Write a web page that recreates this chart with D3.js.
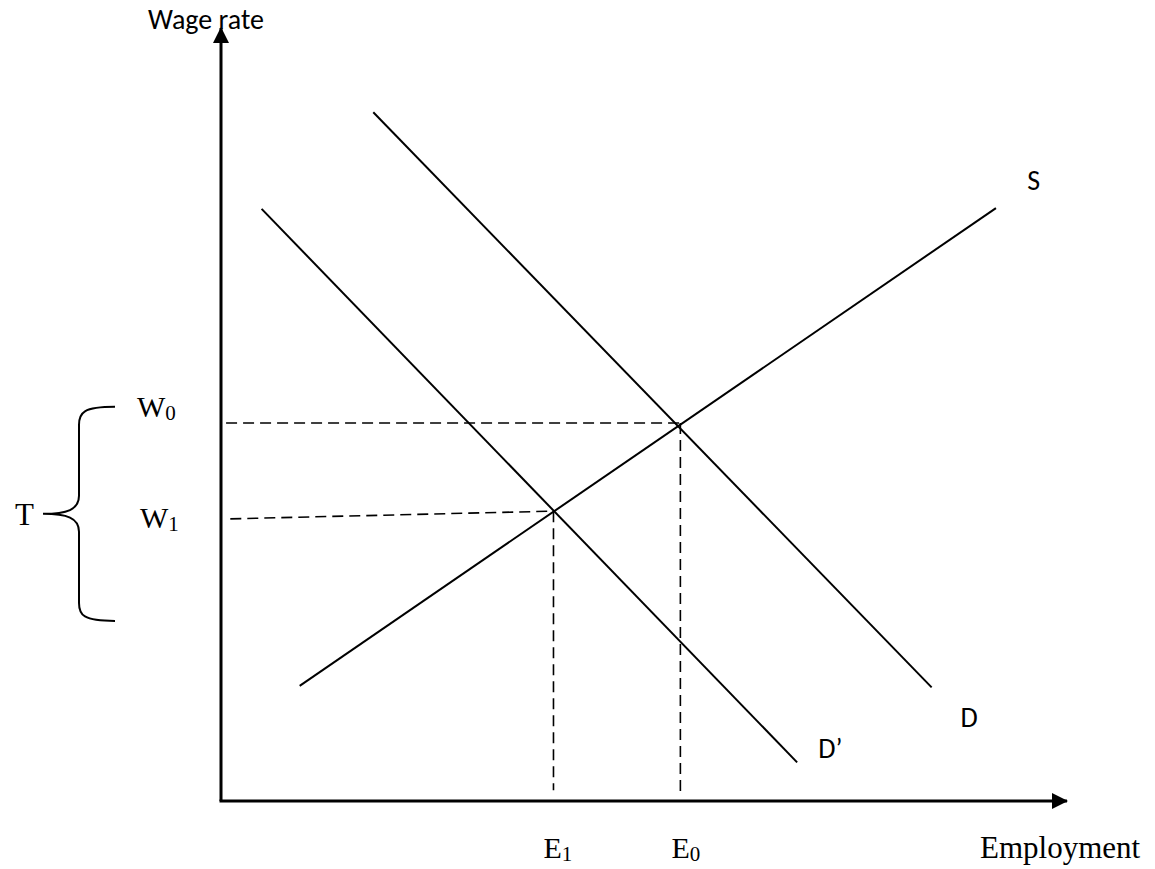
<!DOCTYPE html>
<html>
<head>
<meta charset="utf-8">
<script src="https://cdn.jsdelivr.net/npm/d3@7.9.0/dist/d3.min.js"></script>
<style>
  body { margin: 0; background: #fff; }
  svg { display: block; }
</style>
</head>
<body>
<svg id="chart" width="1155" height="869"></svg>
<script>
// curves in abstract units (x: employment 0-100, y: wage 0-100)
const supply = [[9.3, 14.9], [91.6, 76.7]];
const demand = [[18.0, 89.1], [84.0, 14.7]];
const demand2 = [[4.8, 76.6], [68.1, 5.0]];

// equilibrium points
const eq0 = { x: 54.3, y: 48.9 };
const eq1 = { x: 39.3, y: 37.5 };

// where the dashed guides start / stop
const w0Start = 0.6;
const w1Start = [1.1, 36.5];
const e1Bottom = 1.4;
const e0Bottom = 0.6;

// tax brace range and labels
const braceRange = [23.3, 51.0];
const curveLabels = [
  { text: "S", x: 95.3, y: 79.0 },
  { text: "D", x: 87.4, y: 9.6 },
  { text: "D\u2019", x: 70.6, y: 5.6 }
];

const svg = d3.select("#chart");
const x = d3.scaleLinear().domain([0, 100]).range([221, 1067]);
const y = d3.scaleLinear().domain([0, 100]).range([801, 28]);

const serif = "'Liberation Serif', 'Times New Roman', serif";
const sans = "Carlito, Lato, 'Open Sans', sans-serif";

const defs = svg.append("defs");
defs.append("marker")
  .attr("id", "arrow")
  .attr("viewBox", "0 0 16 16")
  .attr("refX", 15).attr("refY", 8)
  .attr("markerWidth", 16).attr("markerHeight", 16)
  .attr("markerUnits", "userSpaceOnUse")
  .attr("orient", "auto")
  .append("path")
  .attr("d", "M0,0 L16,8 L0,16 Z")
  .attr("fill", "#000");

// Axes
svg.append("line")
  .attr("x1", x(0)).attr("y1", y(0))
  .attr("x2", x(0)).attr("y2", y(100))
  .attr("stroke", "#000").attr("stroke-width", 3)
  .attr("marker-end", "url(#arrow)");
svg.append("line")
  .attr("x1", x(0) - 1.5).attr("y1", y(0))
  .attr("x2", x(100)).attr("y2", y(0))
  .attr("stroke", "#000").attr("stroke-width", 3)
  .attr("marker-end", "url(#arrow)");

// Curves
const line = d3.line().x(d => x(d[0])).y(d => y(d[1]));
[supply, demand, demand2].forEach(c => {
  svg.append("path")
    .datum(c)
    .attr("fill", "none")
    .attr("stroke", "#000")
    .attr("stroke-width", 2)
    .attr("d", line);
});

// Dashed guides
const dash = "11,6";
const guides = [
  [[w0Start, eq0.y], [eq0.x, eq0.y]],
  [w1Start, [eq1.x, eq1.y]],
  [[eq1.x, eq1.y], [eq1.x, e1Bottom]],
  [[eq0.x, eq0.y], [eq0.x, e0Bottom]]
];
guides.forEach(g => {
  svg.append("path")
    .datum(g)
    .attr("fill", "none")
    .attr("stroke", "#000")
    .attr("stroke-width", 1.6)
    .attr("stroke-dasharray", dash)
    .attr("d", line);
});

// Brace
const bTop = y(braceRange[1]), bBot = y(braceRange[0]);
const bMid = (bTop + bBot) / 2;
const armX = 115, spineX = 79, tipX = 43, r = 18;
svg.append("path")
  .attr("fill", "none")
  .attr("stroke", "#000")
  .attr("stroke-width", 2)
  .attr("d", `M${armX},${bTop} C${spineX + 4},${bTop} ${spineX},${bTop + 6} ${spineX},${bTop + r}
    L${spineX},${bMid - r} C${spineX},${bMid - 4} ${spineX - 12},${bMid} ${tipX},${bMid}
    C${spineX - 12},${bMid} ${spineX},${bMid + 4} ${spineX},${bMid + r}
    L${spineX},${bBot - r} C${spineX},${bBot - 6} ${spineX + 4},${bBot} ${armX},${bBot}`);

svg.append("text")
  .attr("x", 15).attr("y", bMid + 11)
  .attr("font-family", serif).attr("font-size", 31)
  .text("T");

// Serif labels with subscripts
function subLabel(main, sub, px, py) {
  const t = svg.append("text")
    .attr("x", px).attr("y", py)
    .attr("font-family", serif).attr("font-size", 30);
  t.append("tspan").text(main);
  t.append("tspan").attr("font-size", 21).attr("dy", 3).text(sub);
}
subLabel("W", "0", 137, y(eq0.y) - 6);
subLabel("W", "1", 140, y(w1Start[1]) + 9);
subLabel("E", "1", x(eq1.x) - 10, 858);
subLabel("E", "0", x(eq0.x) - 9, 858);

svg.append("text")
  .attr("x", 980).attr("y", 858)
  .attr("font-family", serif).attr("font-size", 31)
  .text("Employment");

// Sans labels
svg.append("text")
  .attr("x", 148).attr("y", 29)
  .attr("font-family", sans).attr("font-size", 28)
  .text("Wage rate");

curveLabels.forEach(l => {
  svg.append("text")
    .attr("x", x(l.x)).attr("y", y(l.y))
    .attr("font-family", sans).attr("font-size", 28)
    .text(l.text);
});
</script>
</body>
</html>
